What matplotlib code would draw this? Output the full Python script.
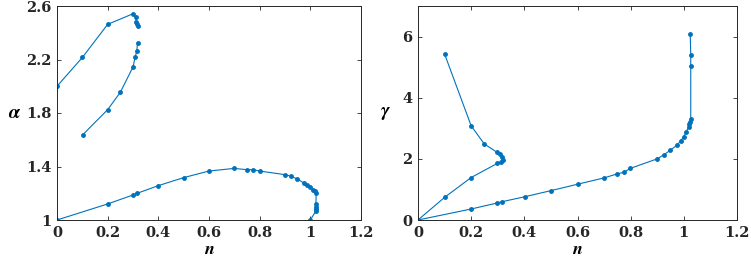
import numpy as np
import matplotlib
matplotlib.use("Agg")
import matplotlib.pyplot as plt

plt.rcParams['mathtext.fontset'] = 'cm'

# ---- data: alpha vs n ----
n_alpha_low = [0.0, 0.2, 0.3, 0.317, 0.4, 0.5, 0.6, 0.7, 0.75, 0.775, 0.8, 0.9, 0.924,
               0.949, 0.975, 0.988, 0.999, 1.012, 1.02, 1.023, 1.022, 1.022, 1.021, 1.021, 1.0]
alpha_low = [1.0, 1.12, 1.187, 1.2, 1.257, 1.317, 1.366, 1.386, 1.376, 1.376, 1.366, 1.339, 1.327,
             1.306, 1.276, 1.259, 1.247, 1.224, 1.214, 1.199, 1.12, 1.10, 1.085, 1.065, 1.0]

n_alpha_mid = [0.101, 0.2, 0.25, 0.30, 0.309, 0.315, 0.318]
alpha_mid = [1.636, 1.825, 1.955, 2.144, 2.221, 2.264, 2.326]

n_alpha_up = [0.318, 0.315, 0.313, 0.31, 0.3, 0.2, 0.1, 0.0]
alpha_up = [2.453, 2.465, 2.478, 2.515, 2.542, 2.463, 2.215, 2.0]

# ---- data: gamma vs n ----
n_gamma_a = [0.1, 0.2, 0.249, 0.298, 0.31, 0.317, 0.318, 0.312, 0.298, 0.2, 0.1, 0.0]
gamma_a = [5.43, 3.08, 2.49, 2.21, 2.15, 2.06, 1.97, 1.89, 1.85, 1.39, 0.74, 0.0]

n_gamma_b = [0.0, 0.2, 0.298, 0.317, 0.401, 0.5, 0.6, 0.7, 0.75, 0.774, 0.799, 0.9, 0.924,
             0.949, 0.974, 0.989, 0.999, 1.009, 1.019, 1.02, 1.025, 1.026, 1.026, 1.026, 1.024]
gamma_b = [0.0, 0.36, 0.557, 0.60, 0.76, 0.96, 1.17, 1.377, 1.51, 1.56, 1.69, 2.0, 2.13,
           2.28, 2.45, 2.60, 2.72, 2.89, 3.05, 3.15, 3.22, 3.31, 5.03, 5.41, 6.10]

x_ticks = [0, 0.2, 0.4, 0.6, 0.8, 1, 1.2]
x_ticklabels = ['0', '0.2', '0.4', '0.6', '0.8', '1', '1.2']
alpha_ticks = [1, 1.4, 1.8, 2.2, 2.6]
alpha_ticklabels = ['1', '1.4', '1.8', '2.2', '2.6']
gamma_ticks = [0, 2, 4, 6]
gamma_ticklabels = ['0', '2', '4', '6']

color = '#0072BD'
axcol = '#262626'
tickfont = dict(family='DejaVu Serif', weight='bold', size=10.5)

fig = plt.figure(figsize=(7.51, 2.62), dpi=100)
ax1 = fig.add_axes([57/751, 42/262, 304/751, 214/262])
ax2 = fig.add_axes([418/751, 42/262, 319/751, 214/262])

def style(ax, yt, ytl):
    ax.set_xticks(x_ticks)
    ax.set_xticklabels(x_ticklabels, fontdict=tickfont)
    ax.set_yticks(yt)
    ax.set_yticklabels(ytl, fontdict=tickfont)
    ax.tick_params(direction='in', top=True, right=True, length=3, width=0.6,
                   colors=axcol, pad=4)
    for sp in ax.spines.values():
        sp.set_color(axcol)
        sp.set_linewidth(0.7)
    ax.set_xlabel(r'$\boldsymbol{n}$', fontsize=13, labelpad=0)

kw = dict(color=color, lw=0.8, marker='.', ms=5)

ax1.plot(n_alpha_low, alpha_low, **kw)
ax1.plot(n_alpha_mid, alpha_mid, **kw)
ax1.plot(n_alpha_up, alpha_up, **kw)
ax1.set_xlim(0, 1.2)
ax1.set_ylim(1, 2.6)
style(ax1, alpha_ticks, alpha_ticklabels)
ax1.set_ylabel(r'$\boldsymbol{\alpha}$', fontsize=14, rotation=0, labelpad=8, va='center')

ax2.plot(n_gamma_a, gamma_a, **kw)
ax2.plot(n_gamma_b, gamma_b, **kw)
ax2.set_xlim(0, 1.2)
ax2.set_ylim(0, 7)
style(ax2, gamma_ticks, gamma_ticklabels)
ax2.set_ylabel(r'$\boldsymbol{\gamma}$', fontsize=14, rotation=0, labelpad=12, va='center')

fig.savefig('out.png', dpi=100)
